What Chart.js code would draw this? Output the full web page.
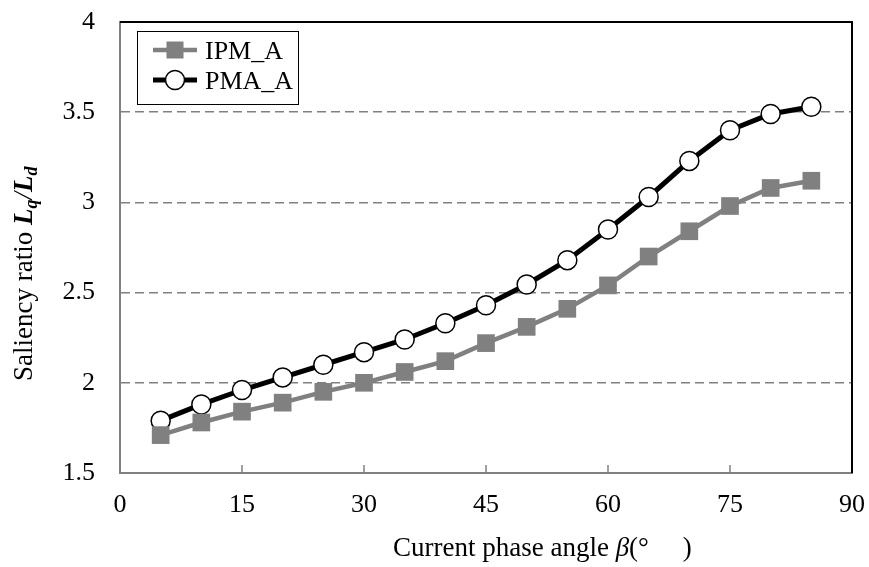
<!DOCTYPE html>
<html>
<head>
<meta charset="utf-8">
<title>Saliency ratio</title>
<script src="https://cdn.jsdelivr.net/npm/chart.js@4"></script>
<style>
  body { margin: 0; background: #fff; }
</style>
</head>
<body>
<canvas id="chart" width="869" height="567"></canvas>
<script>
const angles = [5, 10, 15, 20, 25, 30, 35, 40, 45, 50, 55, 60, 65, 70, 75, 80, 85];
const ipmValues = [1.71, 1.78, 1.84, 1.89, 1.95, 2.00, 2.06, 2.12, 2.22, 2.31, 2.41, 2.54, 2.70, 2.84, 2.98, 3.08, 3.12];
const pmaValues = [1.79, 1.88, 1.96, 2.03, 2.10, 2.17, 2.24, 2.33, 2.43, 2.545, 2.68, 2.85, 3.03, 3.23, 3.40, 3.49, 3.53];
const seriesNames = ["IPM_A", "PMA_A"];
const xTicks = [0, 15, 30, 45, 60, 75, 90];
const yTicks = [1.5, 2, 2.5, 3, 3.5, 4];

const GRAY = "#808080";
const SERIF = "'Liberation Serif', 'Times New Roman', serif";

function toPoints(values) {
  return angles.map((a, i) => ({ x: a, y: values[i] }));
}

// keep tick labels from pushing the plot area in
function noPadding(scale) {
  scale.paddingTop = 0;
  scale.paddingBottom = 0;
  scale.paddingLeft = 0;
  scale.paddingRight = 0;
}

// top/right frame + small x tick marks inside the plot
const framePlugin = {
  id: "frame",
  beforeDatasetsDraw(chart) {
    const { ctx, chartArea: a, scales } = chart;
    ctx.save();
    ctx.strokeStyle = "#000";
    ctx.lineWidth = 2;
    ctx.beginPath();
    ctx.moveTo(a.left, a.top);
    ctx.lineTo(a.right, a.top);
    ctx.lineTo(a.right, a.bottom);
    ctx.stroke();
    ctx.strokeStyle = GRAY;
    ctx.lineWidth = 1.5;
    xTicks.slice(1, -1).forEach((t) => {
      const px = scales.x.getPixelForValue(t);
      ctx.beginPath();
      ctx.moveTo(px, a.bottom);
      ctx.lineTo(px, a.bottom - 8);
      ctx.stroke();
    });
    ctx.restore();
  },
};

// axis titles with italic symbols and subscripts
const titlesPlugin = {
  id: "titles",
  afterDraw(chart) {
    const ctx = chart.ctx;
    ctx.save();
    ctx.fillStyle = "#000";
    ctx.textBaseline = "alphabetic";
    ctx.textAlign = "left";

    // x title
    let parts = [
      { t: "Current phase angle ", f: "27px " + SERIF, dy: 0 },
      { t: "\u03B2", f: "italic 27px " + SERIF, dy: 0 },
      { t: "(\u00B0     )", f: "27px " + SERIF, dy: 0 },
    ];
    let x = 393;
    parts.forEach((p) => {
      ctx.font = p.f;
      ctx.fillText(p.t, x, 556 + p.dy);
      x += ctx.measureText(p.t).width;
    });

    // y title, rotated
    parts = [
      { t: "Saliency ratio ", f: "27px " + SERIF, dy: 0 },
      { t: "L", f: "italic bold 27px " + SERIF, dy: 0 },
      { t: "q", f: "italic bold 18px " + SERIF, dy: 5 },
      { t: "/", f: "italic 27px " + SERIF, dy: 0 },
      { t: "L", f: "italic bold 27px " + SERIF, dy: 0 },
      { t: "d", f: "italic bold 18px " + SERIF, dy: 5 },
    ];
    ctx.translate(32, 381);
    ctx.rotate(-Math.PI / 2);
    x = 0;
    parts.forEach((p) => {
      ctx.font = p.f;
      ctx.fillText(p.t, x, p.dy);
      x += ctx.measureText(p.t).width;
    });
    ctx.restore();
  },
};

// legend box inside the plot
const legendPlugin = {
  id: "boxLegend",
  afterDraw(chart) {
    const ctx = chart.ctx;
    ctx.save();
    ctx.strokeStyle = "#000";
    ctx.lineWidth = 1;
    ctx.fillStyle = "#fff";
    ctx.fillRect(137.5, 31.5, 161, 73);
    ctx.strokeRect(137.5, 31.5, 161, 73);
    chart.data.datasets.forEach((ds, i) => {
      const y = 50 + i * 30;
      ctx.strokeStyle = ds.borderColor;
      ctx.lineWidth = ds.borderWidth;
      ctx.beginPath();
      ctx.moveTo(153, y);
      ctx.lineTo(197, y);
      ctx.stroke();
      if (ds.pointStyle === "rect") {
        ctx.fillStyle = ds.pointBackgroundColor;
        ctx.fillRect(175 - 8.5, y - 8.5, 17, 17);
      } else {
        ctx.beginPath();
        ctx.arc(175, y, ds.pointRadius, 0, Math.PI * 2);
        ctx.fillStyle = ds.pointBackgroundColor;
        ctx.fill();
        ctx.lineWidth = ds.pointBorderWidth;
        ctx.strokeStyle = ds.pointBorderColor;
        ctx.stroke();
      }
      ctx.fillStyle = "#000";
      ctx.font = "26px " + SERIF;
      ctx.textBaseline = "alphabetic";
      ctx.fillText(ds.label, 205, y + 9);
    });
    ctx.restore();
  },
};

new Chart(document.getElementById("chart"), {
  type: "line",
  data: {
    datasets: [
      {
        label: seriesNames[0],
        data: toPoints(ipmValues),
        borderColor: GRAY,
        borderWidth: 4.5,
        pointStyle: "rect",
        pointRadius: 12.5,
        pointBackgroundColor: GRAY,
        pointBorderColor: GRAY,
        pointBorderWidth: 0,
        tension: 0,
      },
      {
        label: seriesNames[1],
        data: toPoints(pmaValues),
        borderColor: "#000",
        borderWidth: 5,
        pointStyle: "circle",
        pointRadius: 9.5,
        pointBackgroundColor: "#fff",
        pointBorderColor: "#000",
        pointBorderWidth: 1.5,
        tension: 0,
      },
    ],
  },
  options: {
    responsive: false,
    animation: false,
    devicePixelRatio: 1,
    layout: { autoPadding: false, padding: { top: 22, right: 17, left: 0, bottom: 0 } },
    plugins: {
      legend: { display: false },
      tooltip: { enabled: false },
    },
    scales: {
      x: {
        type: "linear",
        min: xTicks[0],
        max: xTicks[xTicks.length - 1],
        afterBuildTicks(scale) {
          scale.ticks = xTicks.map((v) => ({ value: v }));
        },
        afterFit(scale) {
          scale.height = 94;
          noPadding(scale);
        },
        grid: { display: false, drawTicks: false },
        border: { display: true, color: GRAY, width: 2 },
        ticks: {
          padding: 17,
          color: "#000",
          font: { family: SERIF, size: 26 },
          maxRotation: 0,
          callback: (v) => String(v),
        },
      },
      y: {
        min: yTicks[0],
        max: yTicks[yTicks.length - 1],
        afterBuildTicks(scale) {
          scale.ticks = yTicks.map((v) => ({ value: v }));
        },
        afterFit(scale) {
          scale.width = 120;
          noPadding(scale);
        },
        grid: {
          drawTicks: false,
          lineWidth: 1.5,
          color: (c) => {
            const v = c.tick && c.tick.value;
            return v === yTicks[0] || v === yTicks[yTicks.length - 1] ? "rgba(0,0,0,0)" : GRAY;
          },
        },
        border: { display: true, color: GRAY, width: 2, dash: [9, 5] },
        ticks: {
          padding: 25,
          color: "#000",
          font: { family: SERIF, size: 26 },
          callback: (v) => String(v),
        },
      },
    },
  },
  plugins: [framePlugin, titlesPlugin, legendPlugin],
});
</script>
</body>
</html>
